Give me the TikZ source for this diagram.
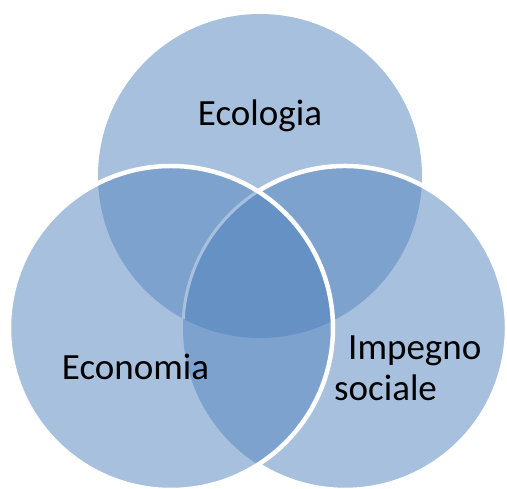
\documentclass[tikz,border=0pt]{standalone}
\usepackage{fontspec}
\setmainfont{Carlito}
\definecolor{vennone}{RGB}{167,192,222}
\definecolor{venntwo}{RGB}{125,162,206}
\definecolor{vennthree}{RGB}{102,145,197}
\begin{document}
\begin{tikzpicture}[x=1pt,y=1pt,
  vennlabel/.style={font=\fontsize{37}{41}\selectfont, inner sep=0pt, text=black},
  ring/.style={draw=white, line width=4.5pt}]
\useasboundingbox (0,0) rectangle (507,489);
\def\rad{162}
\coordinate (eco) at (260,313);
\coordinate (econ) at (171,161);
\coordinate (soc) at (345,161);
% areas covered by one circle
\fill[vennone] (eco) circle (\rad) (econ) circle (\rad) (soc) circle (\rad);
% areas covered by two circles
\begin{scope}
  \clip (eco) circle (\rad);
  \fill[venntwo] (econ) circle (\rad) (soc) circle (\rad);
\end{scope}
\begin{scope}
  \clip (econ) circle (\rad);
  \fill[venntwo] (soc) circle (\rad);
\end{scope}
% area covered by all three
\begin{scope}
  \clip (eco) circle (\rad);
  \clip (econ) circle (\rad);
  \fill[vennthree] (soc) circle (\rad);
\end{scope}
% faint edge of the right circle seen through the left one
\begin{scope}
  \clip (eco) circle (\rad);
  \draw[vennone, line width=3pt] (soc) ++(122.4:\rad) arc[start angle=122.4, end angle=237.6, radius=\rad];
\end{scope}
% white outlines
\draw[ring] (soc) ++(122.4:\rad) arc[start angle=122.4, end angle=-122.4, radius=\rad];
\draw[ring] (econ) circle (\rad);
% labels
\node[vennlabel, anchor=base] (ecologia) at (260,363) {Ecologia};
\node[vennlabel, anchor=base] (economia) at (135.5,109) {Economia};
\node[vennlabel, anchor=base west] (impegno) at (348,129) {Impegno};
\node[vennlabel, anchor=base west] (sociale) at (334,88) {sociale};
\end{tikzpicture}
\end{document}
